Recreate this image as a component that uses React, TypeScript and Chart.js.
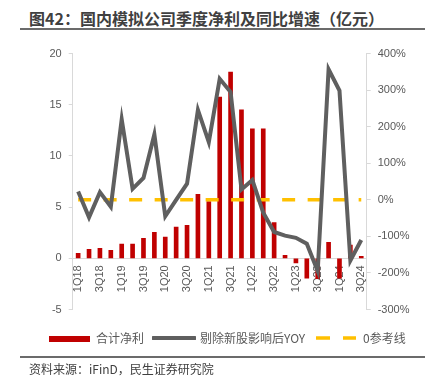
import React, { useEffect, useRef } from "react";
import { Chart, registerables } from "chart.js";

Chart.register(...registerables);

const quarters = [
  "1Q18", "2Q18", "3Q18", "4Q18",
  "1Q19", "2Q19", "3Q19", "4Q19",
  "1Q20", "2Q20", "3Q20", "4Q20",
  "1Q21", "2Q21", "3Q21", "4Q21",
  "1Q22", "2Q22", "3Q22", "4Q22",
  "1Q23", "2Q23", "3Q23", "4Q23",
  "1Q24", "2Q24", "3Q24",
];

// 合计净利 (亿元)
const netProfit = [
  0.49, 0.88, 0.98, 0.78,
  1.4, 1.4, 1.95, 2.54,
  2.08, 3.05, 3.22, 6.25,
  5.55, 15.75, 18.2, 14.5,
  12.65, 12.65, 3.5, 0.3,
  -0.46, -1.95, -2.0, 1.55,
  -1.95, 1.3, 0.2,
];

// 剔除新股影响后YOY (%)
const yoyExNew = [
  23, -48, 21, -19,
  220, 30, 60, 179,
  -45, 0, 44, 246,
  158, 331, 295, 28,
  54, -35, -88, -98,
  -104, -120, -195, 357,
  299, -166, -110,
];

// 0参考线 (%)
const zeroRef = [
  0, 0, 0, 0, 0, 0, 0, 0, 0, 0, 0, 0, 0, 0,
  0, 0, 0, 0, 0, 0, 0, 0, 0, 0, 0, 0, 0,
];

const leftTicks = { min: -5, max: 20, step: 5 };
const rightTicks = { min: -300, max: 400, step: 100 };

const FONT = '"Liberation Sans", "Noto Sans CJK SC", sans-serif';
const CJK = '"Noto Sans CJK SC", "Liberation Sans", sans-serif';
const TXT = "#595959";
const AXIS = "#d9d9d9";

export default function App() {
  const ref = useRef<HTMLCanvasElement | null>(null);

  useEffect(() => {
    if (!ref.current) return;
    const chart = new Chart(ref.current, {
      type: "bar",
      data: {
        labels: quarters,
        datasets: [
          {
            type: "line",
            label: "剔除新股影响后YOY",
            data: yoyExNew,
            yAxisID: "y1",
            borderColor: "#5f5f5f",
            borderWidth: 4,
            pointRadius: 0,
            tension: 0,
            order: 1,
          } as any,
          {
            type: "line",
            label: "0参考线",
            data: zeroRef,
            yAxisID: "y1",
            borderColor: "#FFC000",
            borderWidth: 3.5,
            borderDash: [13, 12.5],
            pointRadius: 0,
            order: 2,
          } as any,
          {
            type: "bar",
            label: "合计净利",
            data: netProfit,
            yAxisID: "y",
            backgroundColor: "#C00000",
            barThickness: 4,
            order: 3,
          } as any,
        ],
      },
      options: {
        responsive: false,
        animation: false,
        layout: { padding: { top: 13, bottom: 20.5, left: 0, right: 0 } },
        plugins: {
          legend: { display: false },
          title: { display: false },
          tooltip: { enabled: false },
        },
        scales: {
          x: {
            type: "category",
            position: { y: 0 } as any,
            offset: true,
            grid: { display: true, drawOnChartArea: false, drawTicks: false, color: AXIS },
            border: { color: AXIS, width: 1 },
            ticks: {
              autoSkip: false,
              maxRotation: 90,
              minRotation: 90,
              padding: 7,
              color: TXT,
              font: { family: FONT, size: 11 },
              callback: (_v: any, i: number) => (i % 2 === 0 ? quarters[i] : ""),
            },
          },
          y: {
            position: "left",
            min: leftTicks.min,
            max: leftTicks.max,
            grid: { drawOnChartArea: false, tickLength: 4, color: AXIS },
            border: { color: AXIS, width: 1 },
            ticks: {
              stepSize: leftTicks.step,
              padding: 7,
              color: TXT,
              font: { family: FONT, size: 11 },
            },
            afterFit: (s: any) => {
              s.width = 72.7;
            },
          },
          y1: {
            position: "right",
            min: rightTicks.min,
            max: rightTicks.max,
            grid: { drawOnChartArea: false, tickLength: 4, color: AXIS },
            border: { color: AXIS, width: 1 },
            ticks: {
              stepSize: rightTicks.step,
              padding: 7,
              color: TXT,
              font: { family: FONT, size: 11 },
              callback: (v: any) => `${v}%`,
            },
            afterFit: (s: any) => {
              s.width = 58.3;
            },
          },
        },
      } as any,
    });
    return () => chart.destroy();
  }, []);

  const abs = (o: React.CSSProperties): React.CSSProperties => ({ position: "absolute", ...o });

  return (
    <div style={abs({ left: 0, top: 0, width: 425, height: 383, background: "#fff", overflow: "hidden" })}>
      <div
        style={abs({
          left: 29,
          top: 10,
          fontFamily: CJK,
          fontWeight: 700,
          fontSize: 16,
          lineHeight: "16px",
          color: "#404040",
          whiteSpace: "nowrap",
        })}
      >
        图42：国内模拟公司季度净利及同比增速（亿元）
      </div>
      <div style={abs({ left: 20, top: 28, width: 405, height: 2, background: "#6b6b6b" })} />

      <canvas ref={ref} width={425} height={290} style={abs({ left: 0, top: 40, width: 425, height: 290 })} />

      {/* legend */}
      <div style={abs({ left: 49, top: 336, width: 41, height: 6, background: "#C00000" })} />
      <div style={abs({ left: 96, top: 331, fontFamily: CJK, fontSize: 12, lineHeight: "14px", color: TXT, whiteSpace: "nowrap" })}>
        合计净利
      </div>
      <svg style={abs({ left: 152, top: 334, width: 44, height: 8 })} width={44} height={8}>
        <line x1={1} y1={4} x2={43} y2={4} stroke="#5f5f5f" strokeWidth={4} strokeLinecap="round" />
      </svg>
      <div style={abs({ left: 200, top: 331, fontFamily: CJK, fontSize: 12, lineHeight: "14px", color: TXT, whiteSpace: "nowrap" })}>
        剔除新股影响后YOY
      </div>
      <svg style={abs({ left: 315, top: 334, width: 42, height: 8 })} width={42} height={8}>
        <line x1={1} y1={4} x2={41} y2={4} stroke="#FFC000" strokeWidth={3.5} strokeDasharray="14 13" />
      </svg>
      <div style={abs({ left: 363, top: 331, fontFamily: CJK, fontSize: 12, lineHeight: "14px", color: TXT, whiteSpace: "nowrap" })}>
        0参考线
      </div>

      <div style={abs({ left: 20, top: 356, width: 405, height: 2, background: "#6b6b6b" })} />
      <div style={abs({ left: 29, top: 362, fontFamily: CJK, fontSize: 12, lineHeight: "14px", color: "#404040", whiteSpace: "nowrap" })}>
        资料来源：iFinD，民生证券研究院
      </div>
    </div>
  );
}
